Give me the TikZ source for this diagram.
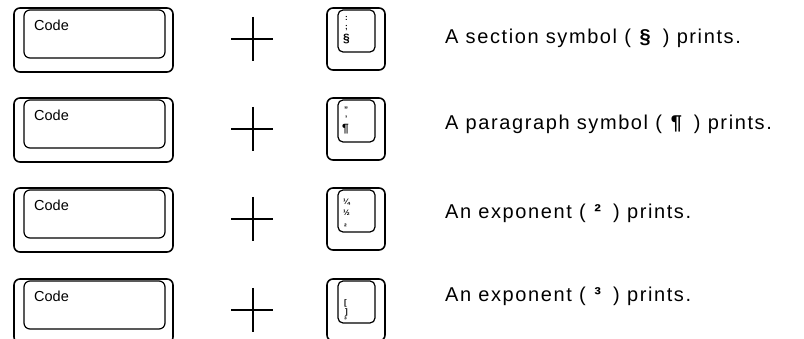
\documentclass[tikz,border=0pt]{standalone}
\usepackage{fontspec}
\setmainfont{Liberation Sans}
\newfontfamily\resultfont[LetterSpace=8]{Liberation Sans}
\begin{document}
\begin{tikzpicture}[x=1pt,y=-1pt,
  outerkey/.style={draw=black,line width=1.6pt,rounded corners=6pt,inner sep=0pt},
  codeouter/.style={outerkey,minimum width=159pt,minimum height=64pt},
  codeinner/.style={draw=black,line width=1.2pt,rounded corners=6pt,inner sep=0pt,minimum width=141pt,minimum height=48pt},
  smallouter/.style={outerkey,minimum width=58pt,minimum height=62pt},
  smallinner/.style={draw=black,line width=1.2pt,rounded corners=5pt,inner sep=0pt,minimum width=37pt,minimum height=42pt},
  codelabel/.style={anchor=base west,inner sep=0pt,font=\fontsize{14.5}{16}\selectfont},
  legend/.style={anchor=west,inner sep=0pt,font=\fontsize{8}{9}\selectfont\bfseries},
  biglegend/.style={anchor=west,inner sep=0pt,font=\fontsize{12}{13}\selectfont\bfseries},
  result/.style={anchor=west,inner sep=0pt,font=\resultfont\fontsize{20}{22}\selectfont},
  plusline/.style={line width=1.4pt}]
\useasboundingbox (0,0) rectangle (804,339);
\fill[white] (0,0) rectangle (804,339);
\clip (0,0) rectangle (804,339);
\foreach \i/\dy in {1/0,2/90,3/180,4/271}{
  \node[codeouter] (codeout\i) at (93.5,40+\dy) {};
  \node[codeinner] (codein\i) at (94.5,34+\dy) {};
  \node[codelabel] (codetext\i) at (34,31+\dy) {Code};
  \coordinate (pl\i) at (231,39+\dy);
  \coordinate (pr\i) at (273,39+\dy);
  \coordinate (pt\i) at (253,17+\dy);
  \coordinate (pb\i) at (253,61+\dy);
  \draw[plusline] (pl\i) -- (pr\i);
  \draw[plusline] (pt\i) -- (pb\i);
  \node[smallouter] (smallout\i) at (356,39+\dy) {};
  \node[smallinner] (smallin\i) at (356.5,31+\dy) {};
}
% legends on the small keys
\node[legend] (l1a) at (345,18) {:};
\node[legend] (l1b) at (345,28) {;};
\node[biglegend] (l1c) at (343,39) {§};
\node[legend] (l2a) at (344,110) {"};
\node[legend] (l2b) at (345,119) {'};
\node[biglegend] (l2c) at (342,129) {¶};
\node[legend] (l3a) at (343,202) {¼};
\node[legend] (l3b) at (343,213) {½};
\node[legend] (l3c) at (344,227) {²};
\node[legend] (l4a) at (344,303) {[};
\node[legend] (l4b) at (345,312) {]};
\node[legend] (l4c) at (344,320) {³};
% results
\node[result] (r1) at (445,38) {A section symbol ( \textbf{§}\, ) prints.};
\node[result] (r2) at (445,124) {A paragraph symbol ( \textbf{¶}\, ) prints.};
\node[result] (r3) at (445,213) {An exponent ( \textbf{²}\, ) prints.};
\node[result] (r4) at (445,296) {An exponent ( \textbf{³}\, ) prints.};
\end{tikzpicture}
\end{document}
